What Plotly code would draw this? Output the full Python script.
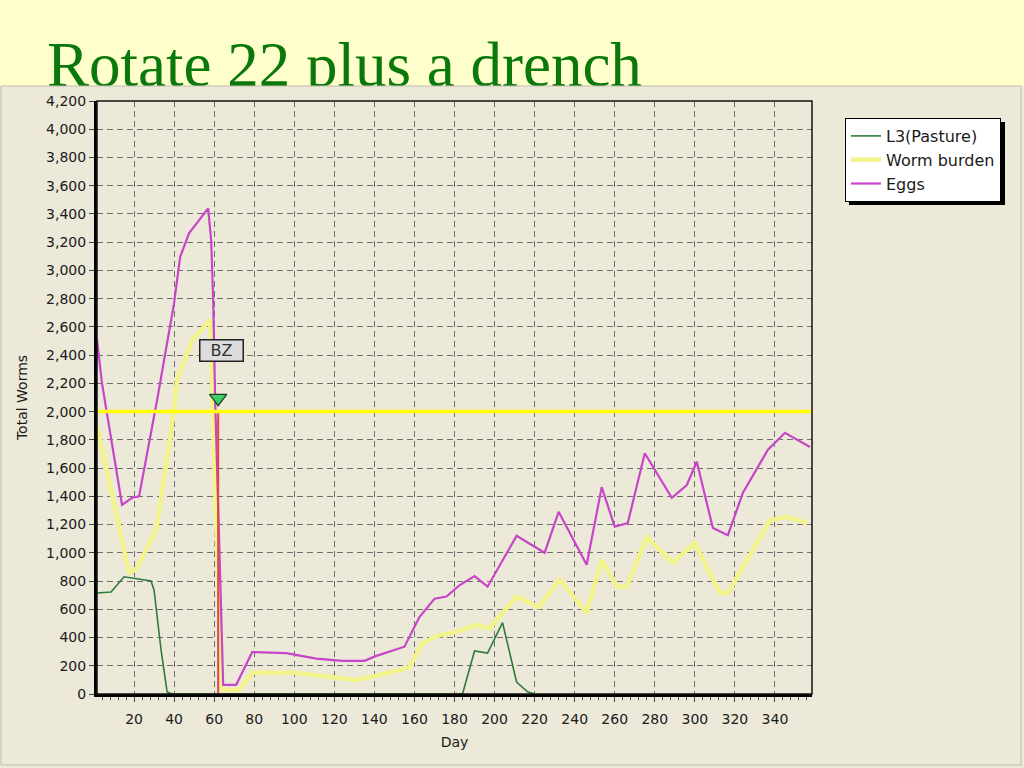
import plotly.graph_objects as go

# ---------------- data ----------------
L3_DAYS = [1.5, 8.5, 15, 22.5, 28.5, 30, 33.5, 36.5, 39, 184, 190, 196.5, 204, 211, 216.5, 220]
L3_VALUES = [715, 722, 830, 815, 800, 735, 310, 15, 0, 0, 305, 290, 505, 85, 15, 0]

WORM_DAYS = [1.5, 17.5, 21, 31, 38.5, 41.5, 49, 56.5, 58, 61, 64, 72.5, 79, 100, 119, 131,
             147.5, 157.5, 164, 171, 181, 191, 197.5, 211, 222, 232.5, 246, 253.5, 261, 266,
             276, 289, 300, 312.5, 316.5, 337.5, 346, 356]
WORM_VALUES = [1900, 860, 880, 1160, 1850, 2225, 2505, 2630, 2650, 1200, 30, 30, 150, 150, 120, 100,
               150, 190, 360, 410, 440, 490, 465, 690, 615, 810, 575, 950, 760, 760,
               1110, 930, 1070, 715, 715, 1230, 1255, 1210]

EGG_DAYS = [1.5, 4, 14, 19, 22.5, 31.5, 40, 43, 47.5, 52.5, 57, 58.5, 59.5, 60.5, 63.5, 64.5, 71,
            79, 96, 111, 124, 135, 141, 155, 162.5, 170, 176, 182.5, 190, 196.5, 211, 225, 232,
            246, 253.5, 260, 266.5, 275, 288.5, 296, 301, 309, 316.5, 324, 336.5, 345, 357.5]
EGG_VALUES = [2510, 2200, 1340, 1390, 1400, 2080, 2770, 3095, 3265, 3360, 3440, 3215, 2790, 2080, 660, 65, 65,
              297, 290, 250, 235, 235, 270, 335, 545, 675, 690, 770, 835, 760, 1120, 1000, 1290,
              915, 1465, 1185, 1210, 1705, 1390, 1480, 1645, 1175, 1125, 1425, 1730, 1850, 1750]

THRESHOLD = [2000]
DRENCH_DAY = [62]
DRENCH_LABEL = ["BZ"]
DRENCH_MARK_Y = [2095]
DRENCH_LABEL_Y = [2430]

X_TICKS = list(range(20, 341, 20))
Y_TICKS = list(range(0, 4201, 200))

TITLE = "Rotate 22 plus a drench"

# ---------------- layout helpers ----------------
W, H = 1024, 768
PL, PR, PT, PB = 97, 812, 101, 694


def px_x(px):
    return (px - PL) / (PR - PL)


def px_y(py):
    return (PB - py) / (PB - PT)


FONT = "DejaVu Sans"
PANEL = "#ece9d8"

fig = go.Figure()

fig.add_trace(go.Scatter(x=L3_DAYS, y=L3_VALUES, mode="lines", name="L3(Pasture)",
                         legendgroup="a", line=dict(color="#2e7d3a", width=1.6)))
fig.add_trace(go.Scatter(x=WORM_DAYS, y=WORM_VALUES, mode="lines", name="Worm burden",
                         legendgroup="b", line=dict(color="#f3f38c", width=4.5)))
fig.add_trace(go.Scatter(x=EGG_DAYS, y=EGG_VALUES, mode="lines", name="Eggs",
                         legendgroup="c", line=dict(color="#c844c8", width=2.2)))

# threshold line
fig.add_hline(y=THRESHOLD[0], line=dict(color="#ffff00", width=3.5), layer="above")

# drench line + marker + label
fig.add_trace(go.Scatter(x=[DRENCH_DAY[0], DRENCH_DAY[0]], y=[THRESHOLD[0], 0], mode="lines",
                         showlegend=False, hoverinfo="skip",
                         line=dict(color="#e04848", width=2)))
fig.add_trace(go.Scatter(x=DRENCH_DAY, y=DRENCH_MARK_Y, mode="markers", showlegend=False,
                         marker=dict(symbol="triangle-down", size=15, color="#3ccf6a",
                                     line=dict(color="#1f3f1f", width=1.2))))
fig.add_annotation(x=DRENCH_DAY[0], y=DRENCH_LABEL_Y[0], text=DRENCH_LABEL[0], showarrow=False,
                   xshift=3,
                   font=dict(family=FONT, size=16, color="#333333"),
                   width=40, height=18, align="center", valign="middle",
                   bgcolor="#dcdcdc", bordercolor="#222222", borderwidth=1.5, borderpad=1)

# title band, title (as shape label, so the panel can clip it), panel strip
fig.add_shape(type="rect", xref="paper", yref="paper",
              x0=px_x(0), x1=px_x(W), y0=px_y(86), y1=px_y(0),
              fillcolor="#ffffcc", line=dict(width=0), layer="below")
fig.add_shape(type="rect", xref="paper", yref="paper",
              x0=px_x(44), x1=px_x(760), y0=px_y(93), y1=px_y(10),
              fillcolor="rgba(0,0,0,0)", line=dict(width=0), layer="below",
              label=dict(text=TITLE, textposition="bottom left", padding=0,
                         font=dict(family="Liberation Serif", size=63, color="#0b780b")))
fig.add_shape(type="rect", xref="paper", yref="paper",
              x0=px_x(0), x1=px_x(W), y0=px_y(H), y1=px_y(86),
              fillcolor=PANEL, line=dict(width=0), layer="below")
fig.add_shape(type="rect", xref="paper", yref="paper",
              x0=px_x(1), x1=px_x(1021), y0=px_y(765), y1=px_y(86),
              fillcolor="rgba(0,0,0,0)", line=dict(color="#bdbaae", width=1), layer="below")

# plot border (thin top/right)
fig.add_shape(type="rect", xref="x domain", yref="y domain", x0=0, x1=1, y0=0, y1=1,
              line=dict(color="#111111", width=1.5), layer="above")

# legend shadow
fig.add_shape(type="rect", xref="paper", yref="paper",
              x0=px_x(849), x1=px_x(1005), y0=px_y(205), y1=px_y(122),
              fillcolor="#000000", line=dict(width=0), layer="below")

fig.update_layout(
    width=W, height=H,
    margin=dict(l=PL, r=W - PR, t=PT, b=H - PB, pad=0),
    paper_bgcolor=PANEL,
    plot_bgcolor=PANEL,
    font=dict(family=FONT, size=13, color="#1a1a1a"),
    showlegend=True,
    legend=dict(x=px_x(845), y=px_y(118), xanchor="left", yanchor="top",
                bgcolor="#ffffff", bordercolor="#000000", borderwidth=1,
                font=dict(family=FONT, size=16, color="#1a1a1a"),
                itemwidth=30, tracegroupgap=0),
    xaxis=dict(range=[1.5, 358.5], tickvals=X_TICKS, ticks="outside", ticklen=5,
               tickcolor="#444444", showline=True, linecolor="#000000", linewidth=3,
               showgrid=True, gridcolor="#6e6e6e", griddash="6px,4px", gridwidth=1,
               zeroline=False, tickfont=dict(size=14), ticklabelstandoff=5,
               minor=dict(dtick=4, tick0=0, ticks="outside", ticklen=3, tickcolor="#555555",
                          showgrid=False),
               title=dict(text="Day", font=dict(size=14), standoff=12)),
    yaxis=dict(range=[0, 4200], tickvals=Y_TICKS, tickformat=",d", ticks="outside", ticklen=5,
               tickcolor="#444444", showline=True, linecolor="#000000", linewidth=3,
               showgrid=True, gridcolor="#6e6e6e", griddash="6px,4px", gridwidth=1,
               zeroline=False, tickfont=dict(size=14),
               title=dict(text="Total Worms", font=dict(size=14), standoff=16)),
)

fig.write_html("out.html", config={"displayModeBar": False},
               post_script="document.body.style.margin='0';")
